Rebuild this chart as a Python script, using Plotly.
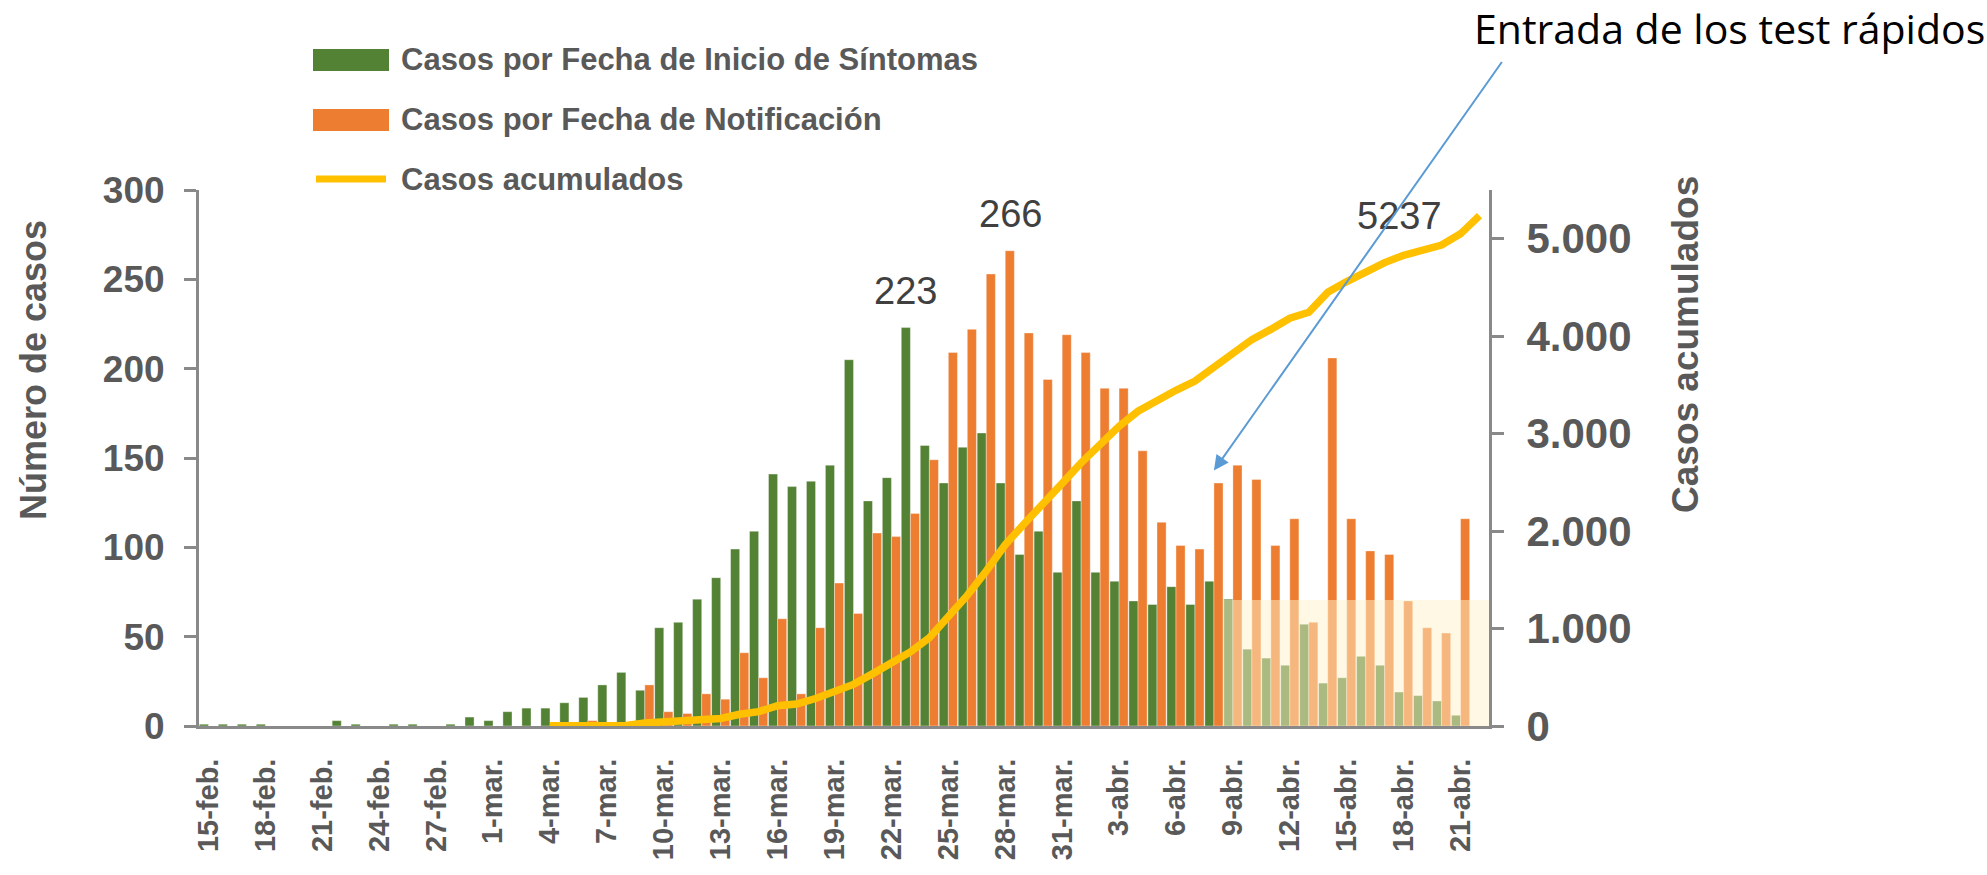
import plotly.graph_objects as go

# ---------------- data ----------------
feb_days = list(range(15, 30))
mar_days = list(range(1, 32))
abr_days = list(range(1, 23))
fechas = ([f"{d}-feb." for d in feb_days] + [f"{d}-mar." for d in mar_days]
          + [f"{d}-abr." for d in abr_days])

casos_sintomas = [1, 1, 1, 1, 0, 0, 0, 3, 1, 0,
                  1, 1, 0, 1, 5, 3, 8, 10, 10, 13,
                  16, 23, 30, 20, 55, 58, 71, 83, 99, 109,
                  141, 134, 137, 146, 205, 126, 139, 223, 157, 136,
                  156, 164, 136, 96, 109, 86, 126, 86, 81, 70,
                  68, 78, 68, 81, 71, 43, 38, 34, 57, 24,
                  27, 39, 34, 19, 17, 14, 6, None]

casos_notificacion = [0, 0, 0, 0, 0, 0, 0, 0, 0, 0,
                      0, 0, 0, 0, 0, 0, 0, 0, 0, 0,
                      3, 0, 1, 23, 8, 7, 18, 15, 41, 27,
                      60, 18, 55, 80, 63, 108, 106, 119, 149, 209,
                      222, 253, 266, 220, 194, 219, 209, 189, 189, 154,
                      114, 101, 99, 136, 146, 138, 101, 116, 58, 206,
                      116, 98, 96, 70, 55, 52, 116, None]

casos_acumulados = [None] * 18 + [
    2, 2, 5, 5, 6, 30, 38, 45, 63, 78,
    120, 147, 208, 226, 282, 362, 427, 535, 640, 760,
    905, 1115, 1340, 1590, 1860, 2075, 2270, 2490, 2700, 2885,
    3075, 3230, 3345, 3445, 3540, 3675, 3830, 3965, 4070, 4185,
    4245, 4450, 4560, 4660, 4755, 4830, 4880, 4935, 5050, 5237]

tick_fechas = fechas[::3]
serie_sintomas = "Casos por Fecha de Inicio de Síntomas"
serie_notif = "Casos por Fecha de Notificación"
serie_acum = "Casos acumulados"

# ---------------- style ----------------
GREEN = "#548235"
ORANGE = "#ED7D31"
YELLOW = "#FFC000"
TXT = "#595959"
AXIS = "#898989"
NARROW = "Liberation Sans Narrow, Arial Narrow, Liberation Sans, Arial"
SANS = "Liberation Sans, Arial"

W, H = 1987, 875
L, R, T, B = 199, 498, 190, 149
PW, PH = W - L - R, H - T - B


def px(x):
    return (x - L) / PW


def py(y):
    return (H - B - y) / PH


fig = go.Figure()
fig.add_trace(go.Bar(x=fechas, y=casos_sintomas, name=serie_sintomas,
                     marker=dict(color=GREEN, line=dict(color="rgba(255,255,255,0.45)", width=0.8)),
                     showlegend=False))
fig.add_trace(go.Bar(x=fechas, y=casos_notificacion, name=serie_notif,
                     marker=dict(color=ORANGE, line=dict(color="rgba(255,255,255,0.45)", width=0.8)),
                     showlegend=False))
fig.add_trace(go.Scatter(x=fechas, y=casos_acumulados, name=serie_acum, yaxis="y2",
                         mode="lines", line=dict(color=YELLOW, width=7.5),
                         connectgaps=False, showlegend=False))

fig.update_layout(
    width=W, height=H,
    margin=dict(l=L, r=R, t=T, b=B, autoexpand=False),
    paper_bgcolor="white", plot_bgcolor="white",
    barmode="group", bargap=0.04, bargroupgap=0,
    separators=",.",
    xaxis=dict(type="category", categoryorder="array", categoryarray=fechas,
               range=[-0.5, len(fechas) - 0.5],
               tickmode="array", tickvals=tick_fechas, ticktext=tick_fechas,
               tickangle=-90, ticks="", ticklabelstandoff=18,
               tickfont=dict(family=SANS, size=29, color=TXT, weight="bold"),
               showline=True, linecolor=AXIS, linewidth=3,
               showgrid=False, zeroline=False),
    yaxis=dict(range=[0, 300], tick0=0, dtick=50,
               ticks="outside", ticklen=12, tickwidth=3, tickcolor=AXIS,
               ticklabelstandoff=12,
               tickfont=dict(family=NARROW, size=37, color=TXT, weight="bold"),
               showline=True, linecolor=AXIS, linewidth=3,
               showgrid=False, zeroline=False),
    yaxis2=dict(overlaying="y", side="right", range=[0, 5500], tick0=0, dtick=1000,
                tickformat=",d",
                ticks="outside", ticklen=12, tickwidth=3, tickcolor=AXIS,
                ticklabelstandoff=14,
                tickfont=dict(family=SANS, size=42, color=TXT, weight="bold"),
                showline=True, linecolor=AXIS, linewidth=3,
                showgrid=False, zeroline=False),
)

shapes = [
    # shaded region (incomplete recent data)
    dict(type="rect", xref="x", yref="y", x0=53.5, x1=67.5, y0=0, y1=70.5,
         fillcolor="rgba(255,242,204,0.5)", line=dict(width=0), layer="above"),
    # manual legend swatches
    dict(type="rect", xref="paper", yref="paper", x0=px(313), x1=px(389), y0=py(71), y1=py(49),
         fillcolor=GREEN, line=dict(width=0)),
    dict(type="rect", xref="paper", yref="paper", x0=px(313), x1=px(389), y0=py(131), y1=py(109),
         fillcolor=ORANGE, line=dict(width=0)),
    dict(type="line", xref="paper", yref="paper", x0=px(316), x1=px(386), y0=py(179), y1=py(179),
         line=dict(color=YELLOW, width=7)),
]
fig.update_layout(shapes=shapes)

legend_font = dict(family=NARROW, size=31, color=TXT, weight="bold")
annotations = [
    dict(text=serie_sintomas, xref="paper", yref="paper", x=px(399), y=py(60),
         xanchor="left", yanchor="middle", showarrow=False, font=legend_font),
    dict(text=serie_notif, xref="paper", yref="paper", x=px(399), y=py(120),
         xanchor="left", yanchor="middle", showarrow=False, font=legend_font),
    dict(text=serie_acum, xref="paper", yref="paper", x=px(399), y=py(179),
         xanchor="left", yanchor="middle", showarrow=False, font=legend_font),
    # axis titles
    dict(text="Número de casos", xref="paper", yref="paper", x=px(33), y=py(370),
         xanchor="center", yanchor="middle", textangle=-90, showarrow=False,
         font=dict(family=NARROW, size=36, color=TXT, weight="bold")),
    dict(text="Casos acumulados", xref="paper", yref="paper", x=px(1685), y=py(345),
         xanchor="center", yanchor="middle", textangle=-90, showarrow=False,
         font=dict(family=NARROW, size=37, color=TXT, weight="bold")),
    # value labels
    dict(text="223", x=fechas[37], y=223, xref="x", yref="y", xshift=-5, yshift=14,
         xanchor="center", yanchor="bottom", showarrow=False,
         font=dict(family=NARROW, size=38, color="#404040")),
    dict(text="266", x=fechas[42], y=266, xref="x", yref="y", xshift=5, yshift=14,
         xanchor="center", yanchor="bottom", showarrow=False,
         font=dict(family=NARROW, size=38, color="#404040")),
    dict(text="5237", x=fechas[67], y=5237, xref="x", yref="y2", xshift=-36, yshift=0,
         xanchor="right", yanchor="middle", showarrow=False,
         font=dict(family=NARROW, size=38, color="#404040")),
    # rapid test note + arrow
    dict(text="Entrada de los test rápidos", xref="paper", yref="paper",
         x=px(1472), y=py(28), xanchor="left", yanchor="middle", showarrow=False,
         font=dict(family="Open Sans, Lato, sans-serif", size=41, color="#000000")),
    dict(text="", x=53.0, y=143, xref="x", yref="y", ax=289, ay=-410,
         showarrow=True, arrowhead=2, arrowsize=1.5, arrowwidth=2,
         arrowcolor="#5B9BD5", standoff=0),
]
fig.update_layout(annotations=annotations)

fig.write_html("out.html", config={"displayModeBar": False},
               post_script="document.body.style.margin='0';document.body.style.overflow='hidden';")
